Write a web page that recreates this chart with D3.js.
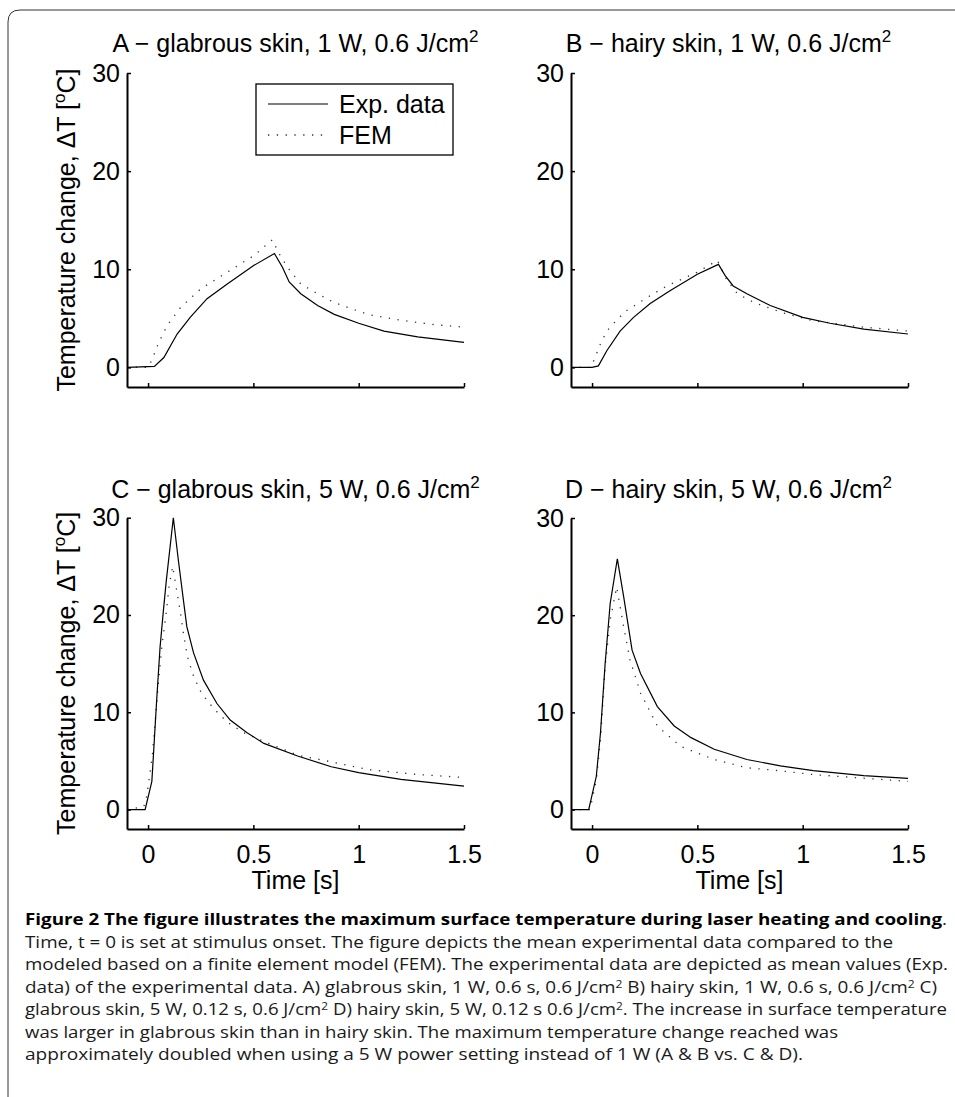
<!DOCTYPE html>
<html>
<head>
<meta charset="utf-8">
<script src="https://cdn.jsdelivr.net/npm/d3@7"></script>
<style>
  body { margin: 0; background: #fff; }
  svg { display: block; }
</style>
</head>
<body>
<div id="chart"></div>
<script>
// values (time in s, temperature change in degC)
const timeExpA = [-0.1, 0.03, 0.075, 0.138, 0.2, 0.28, 0.376, 0.503, 0.6, 0.638, 0.67, 0.725, 0.805, 0.884, 1.0, 1.12, 1.28, 1.5];
const tempExpA = [0, 0.1, 1.0, 3.4, 5.1, 7.0, 8.5, 10.4, 11.6, 10.2, 8.7, 7.5, 6.3, 5.4, 4.5, 3.7, 3.1, 2.55];
const timeFemA = [-0.1, 0.0, 0.02, 0.05, 0.09, 0.154, 0.25, 0.376, 0.503, 0.59, 0.622, 0.662, 0.725, 0.805, 0.884, 1.043, 1.2, 1.36, 1.5];
const tempFemA = [0, 0, 0.85, 2.5, 4.25, 6.1, 8.0, 9.7, 11.4, 13.0, 11.6, 10.2, 8.5, 7.5, 6.6, 5.4, 4.8, 4.35, 4.1];

const timeExpB = [-0.1, 0.0, 0.03, 0.07, 0.133, 0.197, 0.276, 0.37, 0.5, 0.6, 0.632, 0.67, 0.735, 0.846, 1.0, 1.13, 1.29, 1.5];
const tempExpB = [0, 0, 0.15, 1.7, 3.7, 5.1, 6.5, 7.8, 9.5, 10.5, 9.35, 8.3, 7.5, 6.3, 5.1, 4.5, 3.9, 3.4];
const timeFemB = [-0.1, -0.005, 0.04, 0.07, 0.12, 0.165, 0.26, 0.355, 0.5, 0.595, 0.64, 0.69, 0.77, 0.9, 1.05, 1.29, 1.5];
const tempFemB = [0, 0, 2.4, 3.7, 4.9, 5.8, 7.1, 8.3, 9.7, 10.9, 8.9, 7.5, 6.6, 5.6, 4.75, 4.1, 3.7];

const timeExpC = [-0.1, -0.014, 0.018, 0.028, 0.041, 0.057, 0.073, 0.086, 0.12, 0.144, 0.168, 0.184, 0.216, 0.263, 0.327, 0.39, 0.47, 0.55, 0.71, 0.87, 1.0, 1.2, 1.5];
const tempExpC = [0, 0, 2.9, 6.5, 11.3, 16.7, 20.5, 23.4, 30, 25.6, 21.5, 18.8, 16.1, 13.3, 10.9, 9.2, 7.9, 6.8, 5.5, 4.4, 3.8, 3.1, 2.4];
const timeFemC = [-0.1, -0.02, -0.006, 0.02, 0.049, 0.065, 0.086, 0.1, 0.117, 0.136, 0.152, 0.168, 0.187, 0.216, 0.255, 0.311, 0.375, 0.454, 0.55, 0.71, 0.87, 1.05, 1.28, 1.5];
const tempFemC = [0, 0.3, 1.4, 5.5, 13, 16.7, 20.2, 23, 25, 22.5, 20.5, 18.1, 15.7, 13.7, 11.9, 10.4, 9.0, 7.9, 7.0, 5.6, 4.9, 4.1, 3.6, 3.3];

const timeExpD = [-0.1, -0.016, 0.02, 0.04, 0.062, 0.086, 0.12, 0.15, 0.19, 0.23, 0.31, 0.39, 0.47, 0.58, 0.735, 0.894, 1.05, 1.29, 1.5];
const tempExpD = [0, 0, 3.4, 7.9, 15, 21.2, 25.8, 21.9, 16.4, 14, 10.6, 8.6, 7.4, 6.2, 5.15, 4.5, 4.0, 3.5, 3.2];
const timeFemD = [-0.1, -0.01, 0.02, 0.04, 0.062, 0.086, 0.117, 0.15, 0.18, 0.23, 0.31, 0.42, 0.58, 0.735, 0.89, 1.05, 1.5];
const tempFemD = [0, 0, 3.0, 7.2, 14.7, 19.5, 22.9, 18.8, 15.4, 12, 8.6, 6.5, 5.15, 4.3, 4.0, 3.6, 2.9];

const xTicks = [0, 0.5, 1, 1.5];
const yTicks = [0, 10, 20, 30];
const panelTitles = ["A \u2212 glabrous skin, 1 W, 0.6 J/cm", "B \u2212 hairy skin, 1 W, 0.6 J/cm",
                     "C \u2212 glabrous skin, 5 W, 0.6 J/cm", "D \u2212 hairy skin, 5 W, 0.6 J/cm"];
const legendLabels = ["Exp. data", "FEM"];

// caption lines: [text, style] pieces, b = bold, s = superscript
const captionLines = [
  [["Figure 2 The figure illustrates the maximum surface temperature during laser heating and cooling", "b"], [".", ""]],
  [["Time, t = 0 is set at stimulus onset. The figure depicts the mean experimental data compared to the", ""]],
  [["modeled based on a finite element model (FEM). The experimental data are depicted as mean values (Exp.", ""]],
  [["data) of the experimental data. A) glabrous skin, 1 W, 0.6 s, 0.6 J/cm", ""], ["2", "s"], [" B) hairy skin, 1 W, 0.6 s, 0.6 J/cm", ""], ["2", "s"], [" C)", ""]],
  [["glabrous skin, 5 W, 0.12 s, 0.6 J/cm", ""], ["2", "s"], [" D) hairy skin, 5 W, 0.12 s 0.6 J/cm", ""], ["2", "s"], [". The increase in surface temperature", ""]],
  [["was larger in glabrous skin than in hairy skin. The maximum temperature change reached was", ""]],
  [["approximately doubled when using a 5 W power setting instead of 1 W (A & B vs. C & D).", ""]]
];

const width = 955, height = 1097;
const font = "'Liberation Sans', Arial, Helvetica, sans-serif";

const svg = d3.select("#chart").append("svg").attr("width", width).attr("height", height);

// figure frame (rounded top-left corner)
svg.append("path")
  .attr("d", "M955,10 H20 Q8,10 8,22 V1097")
  .attr("fill", "none").attr("stroke", "#333").attr("stroke-width", 1);

const panels = [
  { title: panelTitles[0], tE: timeExpA, vE: tempExpA, tF: timeFemA, vF: tempFemA, xr: [127, 464], yr: [387, 73], titleY: 52, titleDx: 0, xLab: false, yLab: true, legend: true },
  { title: panelTitles[1], tE: timeExpB, vE: tempExpB, tF: timeFemB, vF: tempFemB, xr: [571, 908], yr: [387, 73], titleY: 52, titleDx: -11, xLab: false, yLab: false, legend: false },
  { title: panelTitles[2], tE: timeExpC, vE: tempExpC, tF: timeFemC, vF: tempFemC, xr: [127, 464], yr: [829, 517.7], titleY: 498, titleDx: 0, xLab: true, yLab: true, legend: false },
  { title: panelTitles[3], tE: timeExpD, vE: tempExpD, tF: timeFemD, vF: tempFemD, xr: [571, 908], yr: [829, 518], titleY: 498, titleDx: -11, xLab: true, yLab: false, legend: false }
];

const DrawPanel = (p) => {
  const x = d3.scaleLinear().domain([-0.1, 1.5]).range(p.xr);
  const y = d3.scaleLinear().domain([-2, 30]).range(p.yr);
  const g = svg.append("g");

  // axes, ticks pointing inwards
  const ax = g.append("g").attr("transform", "translate(0," + p.yr[0] + ")")
    .call(d3.axisBottom(x).tickValues(xTicks).tickSizeInner(-4).tickSizeOuter(0).tickPadding(16)
      .tickFormat(p.xLab ? d3.format("") : () => ""));
  const ay = g.append("g").attr("transform", "translate(" + p.xr[0] + ",0)")
    .call(d3.axisLeft(y).tickValues(yTicks).tickSizeInner(-4).tickSizeOuter(0).tickPadding(7));
  [ax, ay].forEach(a => {
    a.attr("font-family", font).attr("font-size", 25);
    a.select(".domain").attr("stroke", "#000").attr("stroke-width", 2);
    a.selectAll(".tick line").attr("stroke", "#000").attr("stroke-width", 1.5);
    a.selectAll(".tick text").attr("fill", "#000");
  });

  // title
  const t = g.append("text").attr("x", (p.xr[0] + p.xr[1]) / 2 + p.titleDx).attr("y", p.titleY)
    .attr("text-anchor", "middle").attr("font-family", font).attr("font-size", 25).attr("fill", "#000");
  t.append("tspan").text(p.title);
  t.append("tspan").attr("dy", -10).attr("font-size", 17).text("2");

  if (p.xLab) {
    g.append("text").attr("x", (p.xr[0] + p.xr[1]) / 2).attr("y", 889)
      .attr("text-anchor", "middle").attr("font-family", font).attr("font-size", 25).text("Time [s]");
  }
  if (p.yLab) {
    const yl = g.append("text")
      .attr("transform", "translate(75," + ((p.yr[0] + p.yr[1]) / 2) + ") rotate(-90)")
      .attr("text-anchor", "middle").attr("font-family", font).attr("font-size", 25);
    yl.append("tspan").text("Temperature change, \u0394T [");
    yl.append("tspan").attr("dy", -10).attr("font-size", 17).text("o");
    yl.append("tspan").attr("dy", 10).text("C]");
  }

  const line = d3.line().x(d => x(d[0])).y(d => y(d[1]));
  g.append("path").datum(d3.zip(p.tF, p.vF))
    .attr("fill", "none").attr("stroke", "#333").attr("stroke-width", 1.3)
    .attr("stroke-dasharray", "1.3 7.5").attr("d", line);
  g.append("path").datum(d3.zip(p.tE, p.vE))
    .attr("fill", "none").attr("stroke", "#000").attr("stroke-width", 1.2).attr("d", line);

  if (p.legend) {
    const lg = g.append("g");
    lg.append("rect").attr("x", 256).attr("y", 84).attr("width", 197).attr("height", 71)
      .attr("fill", "#fff").attr("stroke", "#000").attr("stroke-width", 1.3);
    legendLabels.forEach((lab, i) => {
      const ly = 104 + i * 31;
      lg.append("line").attr("x1", 268).attr("x2", 328).attr("y1", ly).attr("y2", ly)
        .attr("stroke", i === 0 ? "#000" : "#333").attr("stroke-width", i === 0 ? 1.2 : 1.3)
        .attr("stroke-dasharray", i === 0 ? null : "1.3 7.5");
      lg.append("text").attr("x", 339).attr("y", ly).attr("dy", "0.36em")
        .attr("font-family", font).attr("font-size", 25).text(lab);
    });
  }
};

panels.forEach(DrawPanel);

// caption
const capBase = [925, 948, 970, 993, 1015, 1038, 1060];
const capEnd = [947, 893, 948, 937, 947, 838, 803];
captionLines.forEach((pieces, i) => {
  const tx = svg.append("text").attr("x", 25).attr("y", capBase[i])
    .attr("font-family", "'Open Sans', sans-serif").attr("font-size", 16.5).attr("fill", "#1a1a1a")
    .attr("textLength", capEnd[i] - 25).attr("lengthAdjust", "spacingAndGlyphs");
  let raised = false;
  pieces.forEach(pc => {
    const sp = tx.append("tspan").text(pc[0]);
    if (pc[1] === "b") sp.attr("font-weight", "bold").attr("fill", "#000");
    if (pc[1] === "s") { sp.attr("dy", -5).attr("font-size", 10.5); raised = true; }
    else if (raised) { sp.attr("dy", 5); raised = false; }
  });
});
</script>
</body>
</html>
